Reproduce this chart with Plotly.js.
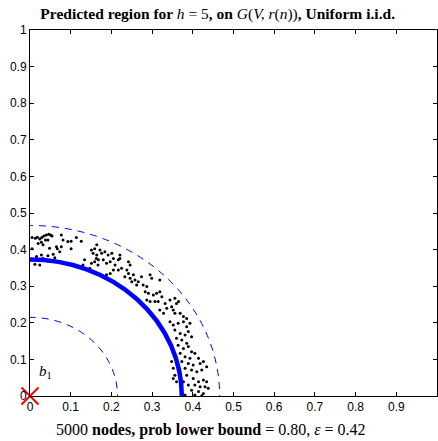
<!DOCTYPE html>
<html>
<head>
<meta charset="utf-8">
<script src="https://cdn.plot.ly/plotly-3.0.1.min.js"></script>
<style>html,body{margin:0;padding:0;background:#fff;}#chart{width:438px;height:441px;}</style>
</head>
<body>
<div id="chart"></div>
<script>
// Simulated node positions
const nodeX = [
0.005,0.013,0.018,0.024,0.029,0.034,0.040,0.046,0.051,0.054,0.028,0.038,0.044,0.020,0.032,0.048,0.065,0.077,0.081,0.077,0.073,0.067,0.093,0.101,0.114,0.126,0.101,0.005,0.016,0.028,0.032,0.044,0.057,0.061,0.012,0.024,0.044,0.151,0.155,0.159,0.163,0.159,0.134,0.151,0.147,0.167,0.130,
0.164,0.172,0.164,0.168,0.176,0.184,0.192,0.201,0.205,0.197,0.188,0.180,0.209,0.217,0.225,0.217,0.205,0.197,0.188,0.221,0.221,0.242,0.246,0.238,0.233,0.242,0.254,0.258,0.266,0.262,0.250,0.246,
0.274,0.295,0.299,0.319,0.278,0.287,0.283,0.291,0.303,0.311,0.319,0.324,0.315,0.307,0.295,0.287,0.332,0.344,0.356,0.365,0.360,0.348,0.336,0.352,0.356,0.369,0.377,0.385,0.319,0.328,
0.344,0.352,0.364,0.377,0.385,0.393,0.356,0.369,0.381,0.389,0.397,0.360,0.373,0.385,0.364,0.377,0.389,0.397,0.405,0.369,0.356,0.381,0.393,0.414,0.348,0.360,0.373,0.389,0.401,0.418,0.426,0.352,0.364,0.381,0.397,0.410,0.422,0.434,0.356,0.369,0.385,0.401,0.414,0.426,0.434,0.405,0.418,0.430,0.389,0.377,0.360,0.352,0.397,0.414,0.426,0.438,0.381,0.405,0.422
];
const nodeY = [
0.433,0.431,0.434,0.429,0.433,0.437,0.440,0.442,0.440,0.437,0.420,0.426,0.426,0.417,0.413,0.404,0.408,0.440,0.426,0.408,0.394,0.402,0.422,0.423,0.433,0.423,0.402,0.402,0.381,0.385,0.376,0.383,0.387,0.378,0.360,0.358,0.369,0.399,0.390,0.402,0.376,0.367,0.372,0.363,0.349,0.358,0.358,
0.413,0.399,0.385,0.372,0.390,0.394,0.385,0.390,0.376,0.367,0.363,0.372,0.358,0.372,0.349,0.344,0.344,0.335,0.331,0.385,0.376,0.367,0.358,0.344,0.326,0.335,0.331,0.317,0.312,0.303,0.312,0.322,
0.326,0.331,0.322,0.317,0.303,0.299,0.285,0.281,0.276,0.281,0.285,0.271,0.258,0.258,0.258,0.262,0.253,0.262,0.267,0.258,0.253,0.244,0.240,0.235,0.226,0.226,0.217,0.212,0.235,0.226,
0.203,0.194,0.199,0.203,0.189,0.199,0.180,0.171,0.167,0.176,0.162,0.158,0.153,0.144,0.139,0.130,0.135,0.121,0.117,0.117,0.107,0.107,0.103,0.103,0.094,0.089,0.094,0.089,0.085,0.089,0.094,0.076,0.071,0.076,0.071,0.066,0.071,0.080,0.057,0.053,0.057,0.048,0.039,0.044,0.039,0.030,0.025,0.025,0.030,0.039,0.039,0.048,0.016,0.012,0.007,0.021,0.003,0.003,0.001
];
// Region radii
const predictedRadius = 0.373;
const boundRadii = [0.215, 0.466];
const origin = [0];
const tickVals = [0,0.1,0.2,0.3,0.4,0.5,0.6,0.7,0.8,0.9,1];
const tickText = ['0','0.1','0.2','0.3','0.4','0.5','0.6','0.7','0.8','0.9','1'];

function circleShape(r, width, dash) {
  return {type:'circle', xref:'x', yref:'y', x0:-r, x1:r, y0:-r, y1:r,
    line:{color:'#0000ff', width:width, dash:dash}, layer:'above'};
}
const shapes = boundRadii.map(r => circleShape(r, 1, '7px,6px'));
shapes.push(circleShape(predictedRadius, 4.5, 'solid'));

const traces = [
  {x:nodeX, y:nodeY, type:'scatter', mode:'markers',
   marker:{color:'#000', size:3, symbol:'circle'}, hoverinfo:'none'},
  {x:origin, y:origin, type:'scatter', mode:'markers', cliponaxis:false,
   marker:{symbol:'x-thin-open', size:17, color:'#ff0000', line:{color:'#ff0000', width:2}}}
];

const axisCommon = {
  range:[0,1], tickvals:tickVals, ticktext:tickText, ticks:'inside', ticklen:4,
  tickcolor:'#000', showline:true, linecolor:'#000', linewidth:1, mirror:'ticks',
  showgrid:false, zeroline:false, fixedrange:true,
  tickfont:{family:'Liberation Sans, Arial, sans-serif', size:12, color:'#000'}
};

const layout = {
  width:438, height:441,
  margin:{l:30, r:1, t:30, b:45},
  paper_bgcolor:'#fff', plot_bgcolor:'#fff',
  showlegend:false,
  title:{text:'<b>Predicted region for </b><i>h</i> = 5<b>, on </b><i>G</i>(<i>V, r</i>(<i>n</i>))<b>, Uniform i.i.d.</b>',
    font:{family:'Liberation Serif, Times New Roman, serif', size:15.5, color:'#000'},
    xref:'container', x:0.497, xanchor:'center', yref:'container', y:0.970, yanchor:'middle'},
  xaxis:Object.assign({}, axisCommon),
  yaxis:Object.assign({}, axisCommon),
  shapes:shapes,
  annotations:[
    {xref:'x', yref:'y', x:0.037, y:0.066, text:'<i>b</i><sub>1</sub>', showarrow:false,
     font:{family:'Liberation Serif, Times New Roman, serif', size:15, color:'#000'}},
    {xref:'paper', yref:'paper', x:0.445, y:-0.093, xanchor:'center', yanchor:'middle', showarrow:false,
     text:'5000 <b>nodes, prob lower bound</b> = 0.80, <i>ε</i> = 0.42',
     font:{family:'Liberation Serif, Times New Roman, serif', size:16, color:'#000'}}
  ]
};

Plotly.newPlot('chart', traces, layout, {staticPlot:true, displayModeBar:false});
</script>
</body>
</html>
